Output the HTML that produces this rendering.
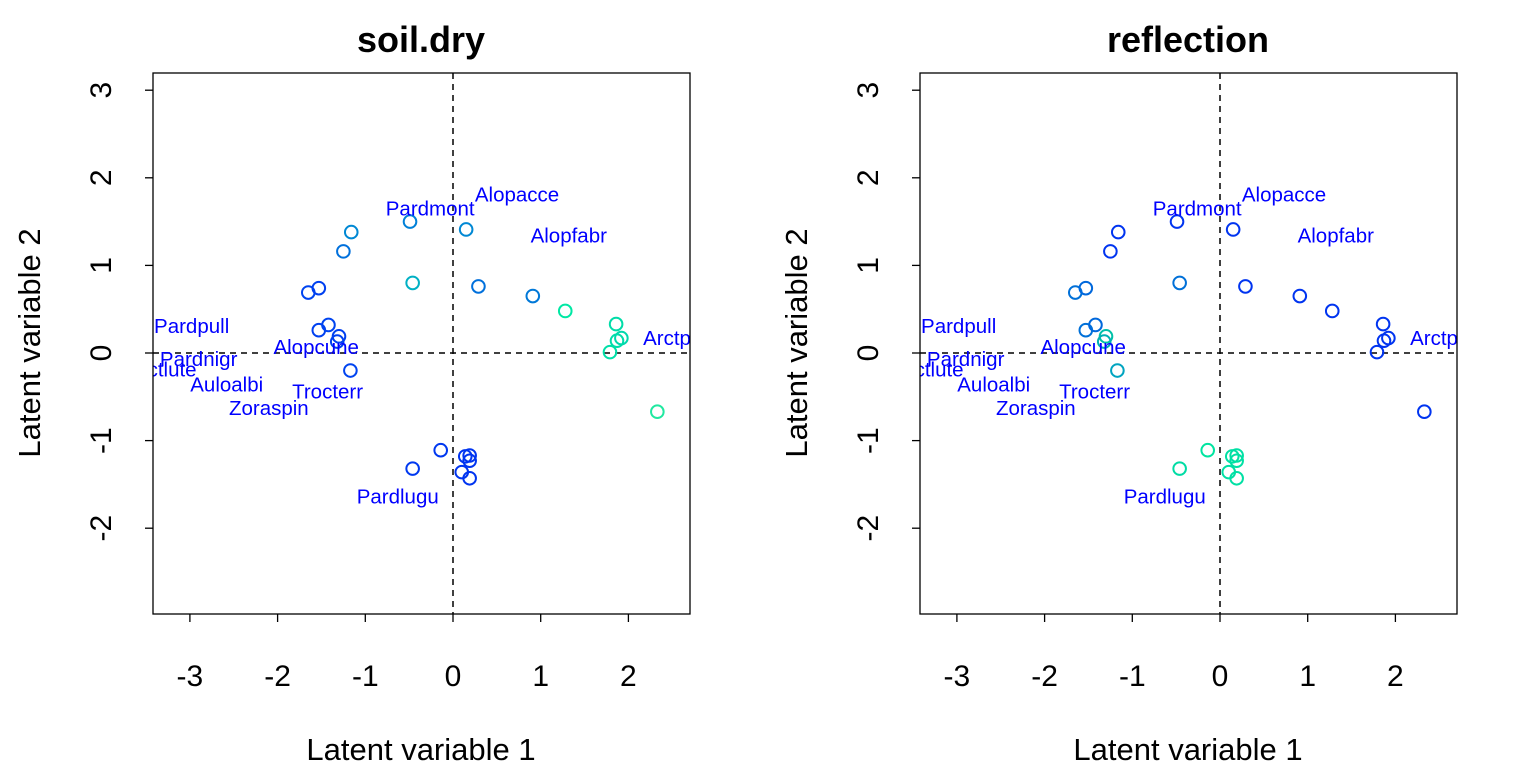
<!DOCTYPE html>
<html><head><meta charset="utf-8"><style>html,body{margin:0;padding:0;background:#fff}svg{display:block}text{font-family:"Liberation Sans",sans-serif}</style></head>
<body>
<svg id="chart" width="1536" height="768" xmlns="http://www.w3.org/2000/svg"></svg>
<script>
const xs=[-1.16,-1.25,-0.49,0.15,-0.46,0.29,0.91,1.28,1.86,1.92,1.87,1.79,-1.65,-1.53,-1.53,-1.42,-1.30,-1.32,-1.17,2.33,-0.14,-0.46,0.14,0.19,0.19,0.10,0.19];
const ys=[1.38,1.16,1.50,1.41,0.80,0.76,0.65,0.48,0.33,0.17,0.14,0.01,0.69,0.74,0.26,0.32,0.19,0.13,-0.20,-0.67,-1.11,-1.32,-1.18,-1.17,-1.23,-1.36,-1.43];
const colLeft=["#0088d4","#0070dc","#0080d8","#0088d4","#00b0c4","#0070dc","#0078d8","#00e8a4","#00dca8","#00d8ac","#00dcaa","#00e0a8","#0044f0","#0040f0","#0040f0","#0044f0","#0040f0","#0040f0","#0044f0","#20e8a0","#0038f0","#0038f0","#0034f0","#0034f0","#0034f0","#0034f0","#0034f0"];
const colRight=["#0034f0","#0034f0","#0034f0","#0034f0","#0070d8","#0034f0","#0034f0","#0034f0","#0034f0","#0034f0","#0034f0","#0034f0","#0070d8","#0068dc","#0070d8","#0068dc","#00c0a8","#00b0b4","#00a4c0","#0034f0","#00e4a0","#00dca4","#00e0a4","#00e0a4","#00e0a4","#00e0a4","#00e0a4"];
const labels=["Pardmont","Alopacce","Alopfabr","Arctperi","Pardpull","Pardnigr","Arctlute","Auloalbi","Alopcune","Trocterr","Zoraspin","Pardlugu"];
const lx=[-0.26,0.73,1.32,2.57,-2.98,-2.90,-3.32,-2.58,-1.56,-1.43,-2.10,-0.63];
const ly=[1.65,1.81,1.34,0.17,0.31,-0.07,-0.19,-0.36,0.07,-0.44,-0.63,-1.64];
const xt=[-3,-2,-1,0,1,2], yt=[3,2,1,0,-1,-2];
const titles=["soil.dry","reflection"];
const NS="http://www.w3.org/2000/svg", svg=document.getElementById('chart');
function mk(t,a,p){const e=document.createElementNS(NS,t);for(const k in a)e.setAttribute(k,a[k]);(p||svg).appendChild(e);return e;}
const L=153,R=690,T=73,B=614,ux=87.7,uy=87.6;
[0,767].forEach((off,pi)=>{
  const X=v=>off+453+v*ux, Y=v=>353-v*uy;
  const g=mk('g',{});
  const cp=mk('clipPath',{id:'cp'+pi},g);mk('rect',{x:off+L,y:T,width:R-L,height:B-T},cp);
  const t=mk('text',{x:off+421,y:52,'text-anchor':'middle','font-size':'36','font-weight':'bold'},g);t.textContent=titles[pi];
  
  const xl=mk('text',{x:off+421,y:760,'text-anchor':'middle','font-size':'31'},g);xl.textContent='Latent variable 1';
  
  const yl=mk('text',{x:0,y:0,transform:`translate(${off+40},343) rotate(-90)`,'text-anchor':'middle','font-size':'31'},g);yl.textContent='Latent variable 2';
  
  xt.forEach(v=>{mk('line',{x1:X(v),x2:X(v),y1:B,y2:B+8,stroke:'#000','stroke-width':1.3},g);
    const tx=mk('text',{x:X(v),y:686,'text-anchor':'middle','font-size':'30'},g);tx.textContent=v;
    });
  yt.forEach(v=>{mk('line',{x1:off+L-8,x2:off+L,y1:Y(v),y2:Y(v),stroke:'#000','stroke-width':1.3},g);
    const ty=mk('text',{x:0,y:0,transform:`translate(${off+111},${Y(v)}) rotate(-90)`,'text-anchor':'middle','font-size':'30'},g);ty.textContent=v;
    });
  mk('line',{x1:X(0),x2:X(0),y1:T,y2:B,stroke:'#000','stroke-width':1.5,'stroke-dasharray':'6,5'},g);
  mk('line',{x1:off+L,x2:off+R,y1:Y(0),y2:Y(0),stroke:'#000','stroke-width':1.5,'stroke-dasharray':'6,5'},g);
  const cols=pi?colRight:colLeft;
  xs.forEach((v,i)=>{const c=mk('circle',{cx:X(v),cy:Y(ys[i]),r:6.3,fill:'none',stroke:cols[i],'stroke-width':2},g);
    });
  const lg=mk('g',{'clip-path':`url(#cp${pi})`},g);
  labels.forEach((s,i)=>{const e=mk('text',{x:X(lx[i]),y:Y(ly[i])+7,'text-anchor':'middle','font-size':'20.5',fill:'#0000ff'},lg);e.textContent=s;
    });
  const bx=mk('rect',{x:off+L,y:T,width:R-L,height:B-T,fill:'none',stroke:'#000','stroke-width':1.3},g);
  
});
</script>
</body></html>
